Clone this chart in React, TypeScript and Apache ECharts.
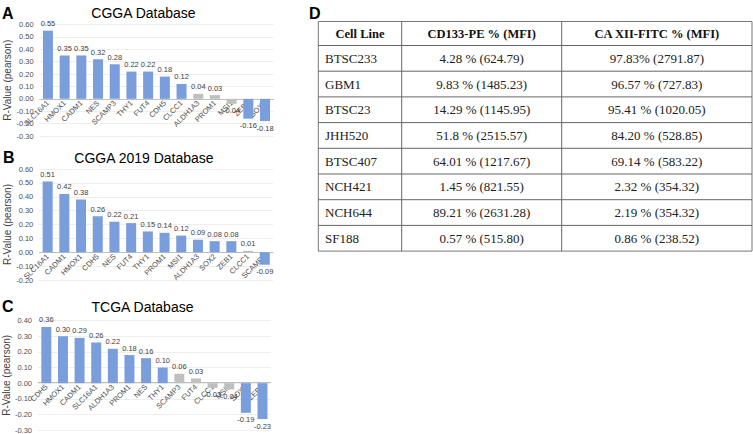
import React, { useEffect, useRef } from "react";
import * as echarts from "echarts";

const genesA = ["SLC16A1", "HMOX1", "CADM1", "NES", "SCAMP3", "THY1", "FUT4", "CDH5", "CLCC1", "ALDH1A3", "PROM1", "MSI1", "ZEB1", "SOX2"];
const valuesA = [0.55, 0.35, 0.35, 0.32, 0.28, 0.22, 0.22, 0.18, 0.12, 0.04, 0.03, -0.04, -0.16, -0.18];
const greyA = ["ALDH1A3", "PROM1", "MSI1"];

const genesB = ["SLC16A1", "CADM1", "HMOX1", "CDH5", "NES", "FUT4", "THY1", "PROM1", "MSI1", "ALDH1A3", "SOX2", "ZEB1", "CLCC1", "SCAMP3"];
const valuesB = [0.51, 0.42, 0.38, 0.26, 0.22, 0.21, 0.15, 0.14, 0.12, 0.09, 0.08, 0.08, 0.01, -0.09];
const greyB = ["CLCC1"];

const genesC = ["CDH5", "HMOX1", "CADM1", "SLC16A1", "ALDH1A3", "PROM1", "NES", "THY1", "SCAMP3", "FUT4", "CLCC1", "MSI1", "SOX2", "ZEB1"];
const valuesC = [0.36, 0.30, 0.29, 0.26, 0.22, 0.18, 0.16, 0.10, 0.06, 0.03, -0.03, -0.04, -0.19, -0.23];
const greyC = ["SCAMP3", "FUT4", "CLCC1", "MSI1"];

const tableHeader = ["Cell Line", "CD133-PE % (MFI)", "CA XII-FITC % (MFI)"];
const cellLines = ["BTSC233", "GBM1", "BTSC23", "JHH520", "BTSC407", "NCH421", "NCH644", "SF188"];
const cd133 = ["4.28 % (624.79)", "9.83 % (1485.23)", "14.29 % (1145.95)", "51.8 % (2515.57)", "64.01 % (1217.67)", "1.45 % (821.55)", "89.21 % (2631.28)", "0.57 % (515.80)"];
const caxii = ["97.83% (2791.87)", "96.57 % (727.83)", "95.41 % (1020.05)", "84.20 % (528.85)", "69.14 % (583.22)", "2.32 % (354.32)", "2.19 % (354.32)", "0.86 % (238.52)"];

const BLUE = "#7A9DDC";
const GREY = "#BFBFBF";
const SANS = "Liberation Sans, Arial, sans-serif";
const SERIF = "Liberation Serif, Times New Roman, serif";

function barData(values: number[], genes: string[], grey: string[]) {
  return values.map((v, i) => ({
    value: v,
    itemStyle: { color: grey.includes(genes[i]) ? GREY : BLUE },
    label: { position: v < 0 ? "bottom" : "top" },
  }));
}

export default function App() {
  const ref = useRef<HTMLDivElement>(null);
  useEffect(() => {
    document.body.style.margin = "0";
    const chart = echarts.init(ref.current!, undefined, { renderer: "svg" });

    const grids = [
      { left: 39.6, width: 233.8, top: 24.5, height: 111.5 },
      { left: 39.3, width: 233.8, top: 169, height: 111 },
      { left: 37, width: 233.8, top: 320.7, height: 110.3 },
    ];
    const ranges = [
      [-0.3, 0.6],
      [-0.2, 0.6],
      [-0.3, 0.4],
    ];
    const cats = [genesA, genesB, genesC];
    const vals = [valuesA, valuesB, valuesC];
    const greys = [greyA, greyB, greyC];

    const xAxis = cats.map((c, i) => ({
      type: "category",
      gridIndex: i,
      data: c,
      position: "bottom",
      // place the category axis at the zero line of the value axis
      offset: -grids[i].height * (0 - ranges[i][0]) / (ranges[i][1] - ranges[i][0]),
      axisTick: { show: false },
      axisLine: { onZero: false, lineStyle: { color: "#BFBFBF", width: 1 } },
      axisLabel: { rotate: 45, fontSize: 7.5, color: "#505050", margin: 3, interval: 0, fontFamily: SANS },
    }));
    const yAxis = ranges.map((r, i) => ({
      type: "value",
      gridIndex: i,
      min: r[0],
      max: r[1],
      interval: 0.1,
      axisLine: { show: false },
      axisTick: { show: false },
      splitLine: { lineStyle: { color: "#EEEEEE", width: 1 } },
      axisLabel: { fontSize: 7.5, color: "#505050", margin: 6, fontFamily: SANS, formatter: (v: number) => v.toFixed(2) },
      name: "R-Value (pearson)",
      nameLocation: "middle",
      nameRotate: 90,
      nameGap: 27,
      nameTextStyle: { fontSize: 10, color: "#404040", fontFamily: SANS },
    }));
    const series = vals.map((v, i) => ({
      type: "bar",
      xAxisIndex: i,
      yAxisIndex: i,
      data: barData(v, cats[i], greys[i]),
      barCategoryGap: "40%",
      label: {
        show: true,
        fontSize: 7.5,
        color: "#404040",
        distance: 3,
        fontFamily: SANS,
        formatter: (p: any) => Number(p.value).toFixed(2),
      },
    }));

    const titles = [
      { text: "CGGA Database", x: 143.5, y: 13 },
      { text: "CGGA 2019 Database", x: 144, y: 157.5 },
      { text: "TCGA Database", x: 142.5, y: 306.5 },
    ];

    const graphics: any[] = [];
    titles.forEach((t) =>
      graphics.push({
        type: "text",
        x: t.x,
        y: t.y,
        style: { text: t.text, fontSize: 14, fill: "#000", fontFamily: SANS, textAlign: "center", textVerticalAlign: "middle" },
      })
    );
    const letters = [
      { t: "A", x: 2, y: 13 },
      { t: "B", x: 3, y: 157 },
      { t: "C", x: 2, y: 306 },
      { t: "D", x: 309, y: 13 },
    ];
    letters.forEach((l) =>
      graphics.push({
        type: "text",
        x: l.x,
        y: l.y,
        style: { text: l.t, fontSize: 16, fontWeight: "bold", fill: "#000", fontFamily: SANS, textVerticalAlign: "middle" },
      })
    );

    // Table
    const tLeft = 318.3;
    const tRight = 752;
    const colX = [tLeft, 401.7, 561.7, tRight];
    const tTop = 21.5;
    const headH = 24;
    const rowH = 25.7;
    const rowYs = [tTop, tTop + headH];
    cellLines.forEach((_, i) => rowYs.push(tTop + headH + rowH * (i + 1)));
    const tBottom = rowYs[rowYs.length - 1];
    graphics.push({
      type: "rect",
      shape: { x: tLeft, y: tTop, width: tRight - tLeft, height: tBottom - tTop },
      style: { fill: "#fff", stroke: "#777", lineWidth: 1 },
      z: 1,
    });
    rowYs.slice(1, -1).forEach((y) =>
      graphics.push({ type: "line", shape: { x1: tLeft, y1: y, x2: tRight, y2: y }, style: { stroke: "#666", lineWidth: 1 }, z: 2 })
    );
    colX.slice(1, -1).forEach((x) =>
      graphics.push({ type: "line", shape: { x1: x, y1: tTop, x2: x, y2: tBottom }, style: { stroke: "#666", lineWidth: 1 }, z: 2 })
    );
    const centers = [(colX[0] + colX[1]) / 2, (colX[1] + colX[2]) / 2, (colX[2] + colX[3]) / 2];
    tableHeader.forEach((h, j) =>
      graphics.push({
        type: "text",
        x: centers[j],
        y: (rowYs[0] + rowYs[1]) / 2,
        z: 3,
        style: { text: h, fontSize: 12.5, fontWeight: "bold", fill: "#111", fontFamily: SERIF, textAlign: "center", textVerticalAlign: "middle" },
      })
    );
    cellLines.forEach((c, i) => {
      const cy = (rowYs[i + 1] + rowYs[i + 2]) / 2;
      graphics.push({
        type: "text",
        x: 325,
        y: cy,
        z: 3,
        style: { text: c, fontSize: 13, fill: "#222", fontFamily: SERIF, textAlign: "left", textVerticalAlign: "middle" },
      });
      graphics.push({
        type: "text",
        x: centers[1],
        y: cy,
        z: 3,
        style: { text: cd133[i], fontSize: 13, fill: "#222", fontFamily: SERIF, textAlign: "center", textVerticalAlign: "middle" },
      });
      graphics.push({
        type: "text",
        x: centers[2],
        y: cy,
        z: 3,
        style: { text: caxii[i], fontSize: 13, fill: "#222", fontFamily: SERIF, textAlign: "center", textVerticalAlign: "middle" },
      });
    });

    chart.setOption({
      animation: false,
      backgroundColor: "#fff",
      grid: grids,
      xAxis,
      yAxis,
      series,
      graphic: graphics,
    } as any);
    return () => chart.dispose();
  }, []);
  return <div ref={ref} style={{ width: 753, height: 434 }} />;
}
